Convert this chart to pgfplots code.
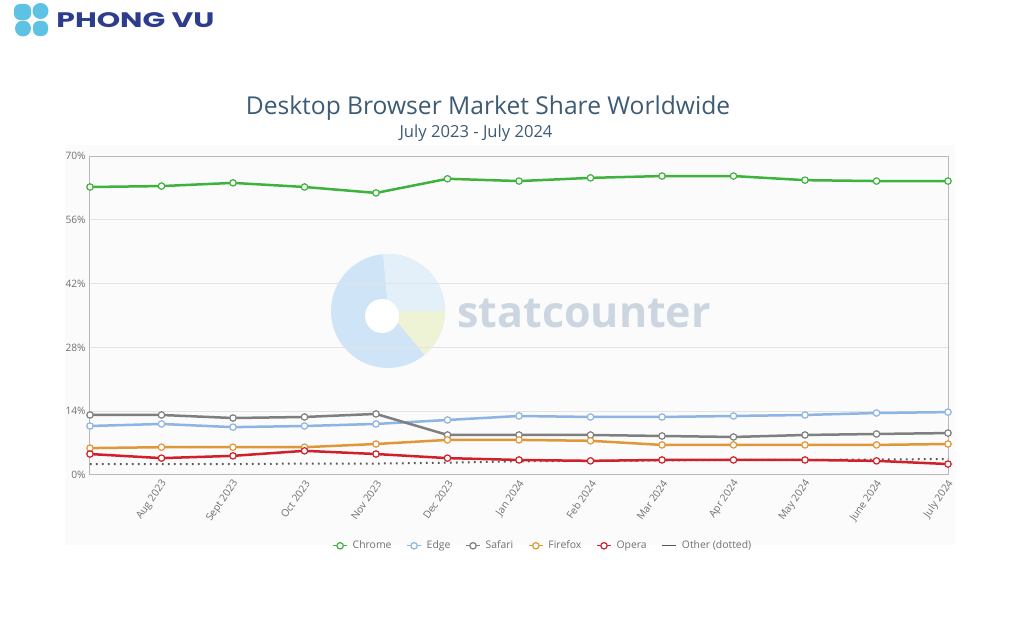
\documentclass[border=0pt]{standalone}
\usepackage{pgfplots}
\pgfplotsset{compat=1.18}
\usepackage{graphicx}
\usepackage{fontspec}
\setmainfont{Open Sans}
\newfontfamily\logofont{Poppins}

\definecolor{chrome}{HTML}{3DB23D}
\definecolor{edge}{HTML}{8DB4E2}
\definecolor{safari}{HTML}{7F7F7F}
\definecolor{firefox}{HTML}{E0973A}
\definecolor{opera}{HTML}{D0202A}
\definecolor{other}{HTML}{555555}
\definecolor{titleblue}{HTML}{3E5B75}
\definecolor{ticktext}{HTML}{707070}
\definecolor{logoblue}{HTML}{5EC2E4}
\definecolor{logotext}{HTML}{2E3C8E}
\definecolor{wmblue}{HTML}{CFE4F6}
\definecolor{wmlight}{HTML}{E3F0FA}
\definecolor{wmyellow}{HTML}{EEF3D6}
\definecolor{wmtext}{HTML}{CCD6E1}

\begin{document}
\begin{tikzpicture}[x=0.5pt,y=0.5pt]
\useasboundingbox[fill=white] (0,0) rectangle (1024,640);

% logo
\fill[logoblue, rounded corners=3] (14,636) rectangle (31,620);
\fill[logoblue] (40.5,629) circle (8);
\fill[logoblue] (23,611.5) circle (8);
\fill[logoblue, rounded corners=3] (33,619) rectangle (48,604);
\node[anchor=west, inner sep=0, text=logotext] at (56,620)
  {\scalebox{1.42}[1]{\logofont\bfseries\fontsize{10.5}{11}\selectfont PHONG VU}};

% chart panel
\fill[gray!3] (65,95) rectangle (955,495);

% titles
\node[text=titleblue, font=\fontsize{12.3}{14}\selectfont] at (488,532)
  {Desktop Browser Market Share Worldwide};
\node[text=titleblue, font=\fontsize{8.3}{10}\selectfont] at (476,507)
  {July 2023 - July 2024};

% watermark
\fill[wmblue] (388,329) circle (57);
\fill[wmlight] (388,329) -- ++(0:57) arc[start angle=0, end angle=95, radius=57] -- cycle;
\fill[wmyellow] (388,329) -- ++(0:57) arc[start angle=0, end angle=-50, radius=57] -- cycle;
\fill[white] (382,324) circle (17);
\node[anchor=west, inner sep=0, text=wmtext, font=\bfseries\fontsize{21.5}{24}\selectfont] at (457,327) {statcounter};

\begin{axis}[
    at={(45pt,82.5pt)}, anchor=south west,
    scale only axis, width=429pt, height=159.5pt,
    xmin=0, xmax=12, ymin=0, ymax=70,
    clip=false,
    xtick={0,...,12},
    xticklabels={,Aug 2023,Sept 2023,Oct 2023,Nov 2023,Dec 2023,Jan 2024,Feb 2024,Mar 2024,Apr 2024,May 2024,June 2024,July 2024},
    ytick={0,14,...,70},
    yticklabel={\pgfmathprintnumber{\tick}\%},
    /pgf/number format/assume math mode=true,
    major tick length=0pt,
    ymajorgrids=true,
    grid style={gray!22, line width=0.5pt},
    axis line style={gray!55, line width=0.5pt},
    ticklabel style={text=ticktext, font=\fontsize{5.1}{6}\selectfont},
    xticklabel style={xshift=2.5pt, yshift=-2pt, rotate=55, anchor=east, inner sep=1.5pt},
    yticklabel style={inner sep=2pt},
    every axis plot/.append style={line width=1.25pt, mark=*, mark size=1.6pt,
        mark options={fill=white, solid, line width=0.6pt}},
    legend columns=-1,
    legend style={at={(0.529,-0.222)}, anchor=center, draw=none, fill=none,
        font=\fontsize{5.2}{6}\selectfont, text=ticktext,
        /tikz/every even column/.append style={column sep=5.5pt},
        /tikz/every odd column/.append style={column sep=0.5pt}},
    legend image code/.code={\draw[mark repeat=2, mark phase=2, line width=0.6pt, #1]
        plot coordinates {(0pt,0pt) (3.5pt,0pt) (7pt,0pt)};},
]
\addplot[color=chrome] coordinates {
  (0,63.2) (1,63.4) (2,64.1) (3,63.2) (4,61.9) (5,65.0) (6,64.5)
  (7,65.2) (8,65.6) (9,65.6) (10,64.7) (11,64.5) (12,64.5)};
\addlegendentry{Chrome}
\addplot[color=edge] coordinates {
  (0,10.75) (1,11.2) (2,10.5) (3,10.75) (4,11.2) (5,12.07) (6,12.95)
  (7,12.73) (8,12.73) (9,12.95) (10,13.17) (11,13.6) (12,13.8)};
\addlegendentry{Edge}
\addplot[color=safari] coordinates {
  (0,13.17) (1,13.17) (2,12.5) (3,12.73) (4,13.4) (5,8.78) (6,8.78)
  (7,8.78) (8,8.56) (9,8.34) (10,8.78) (11,9.0) (12,9.2)};
\addlegendentry{Safari}
\addplot[color=firefox] coordinates {
  (0,5.9) (1,6.1) (2,6.1) (3,6.1) (4,6.8) (5,7.7) (6,7.7)
  (7,7.5) (8,6.6) (9,6.6) (10,6.6) (11,6.6) (12,6.8)};
\addlegendentry{Firefox}
\addplot[color=other, no marks, line width=1pt, dash pattern=on 0.8pt off 2.2pt, forget plot] coordinates {
  (0,2.4) (1,2.4) (2,2.4) (3,2.5) (4,2.5) (5,2.7) (6,3.0)
  (7,3.1) (8,3.2) (9,3.3) (10,3.3) (11,3.4) (12,3.5)};
\addplot[color=opera] coordinates {
  (0,4.6) (1,3.7) (2,4.2) (3,5.3) (4,4.6) (5,3.7) (6,3.3)
  (7,3.1) (8,3.3) (9,3.3) (10,3.3) (11,3.1) (12,2.4)};
\addlegendentry{Opera}
\addlegendimage{color=other, no marks, line width=1pt, solid}
\addlegendentry{Other (dotted)}
\end{axis}
\end{tikzpicture}
\end{document}
